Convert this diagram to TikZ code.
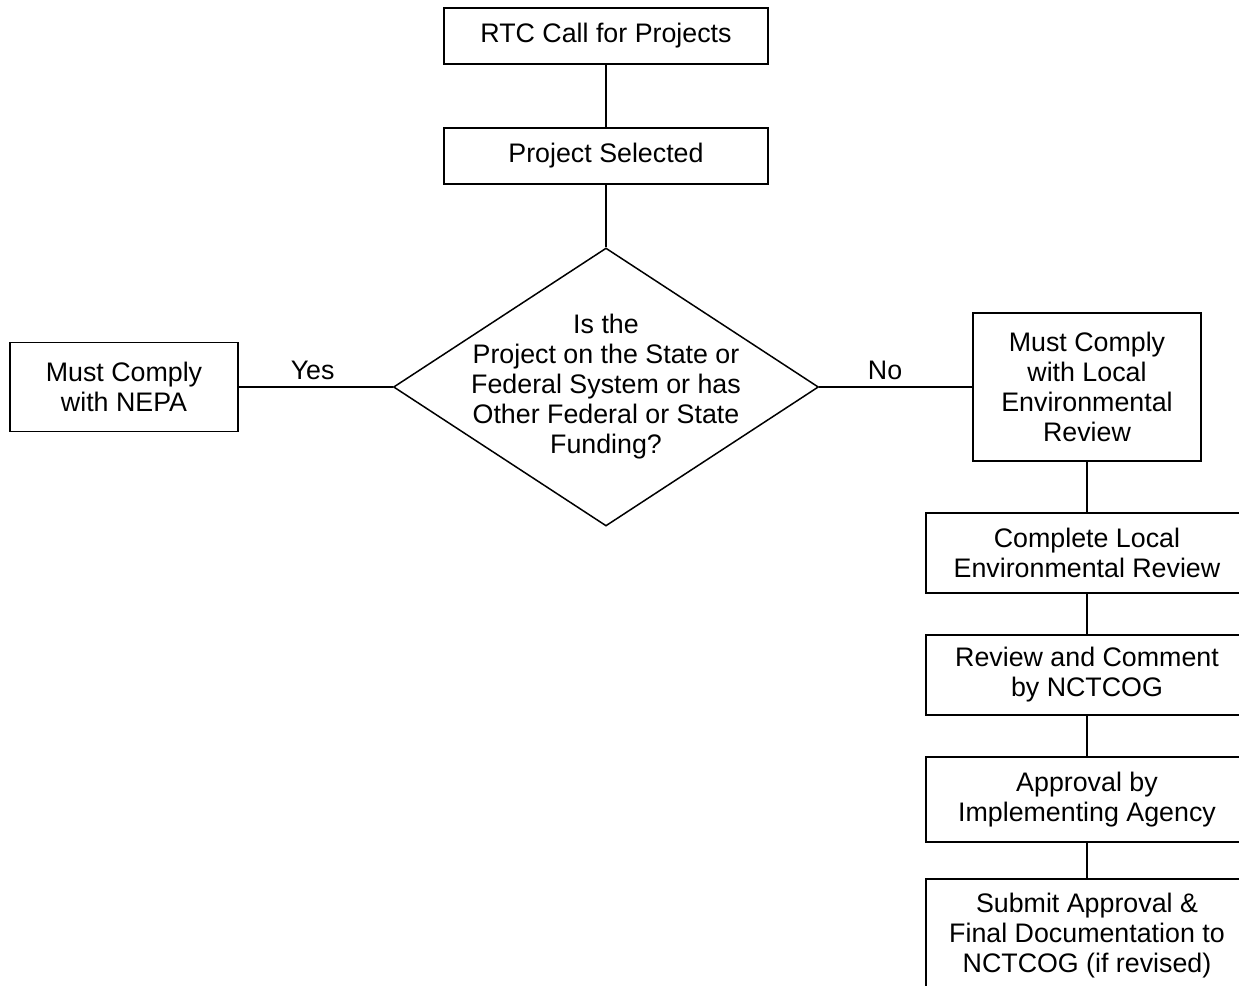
\documentclass[tikz,border=0pt]{standalone}
\usepackage{fontspec}
\setmainfont{Liberation Sans}
\usetikzlibrary{shapes.geometric}
\begin{document}
\begin{tikzpicture}[x=0.5pt, y=-0.5pt, line width=0.75pt,
        every node/.style={font=\fontsize{13.4}{15}\selectfont},
        box/.style={draw, align=center, inner sep=0pt},
        decision/.style={draw, diamond, inner sep=0pt, minimum width=212.5pt, minimum height=139pt}]
                \useasboundingbox (0,0) rectangle (1239,986);
                \draw (606,36) node[box, minimum width=162pt, minimum height=28pt] (rtc) {RTC Call for Projects};
                \draw (606,156) node[box, minimum width=162pt, minimum height=28pt] (sel) {Project Selected};
                \draw (606,387) node[decision] (q) {\makebox[0pt]{\smash{\raisebox{-4pt}{\begin{tabular}{@{}c@{}}Is the\\Project on the State or\\Federal System or has\\Other Federal or State\\Funding?\end{tabular}}}}};
                \draw (124,387) node[box, minimum width=114pt, minimum height=44.5pt] (nepa) {Must Comply\\with NEPA};
                \draw (1087,387) node[box, minimum width=114pt, minimum height=74pt] (local) {Must Comply\\with Local\\Environmental\\Review};
                \draw (1087,553) node[box, minimum width=161pt, minimum height=40pt] (complete) {Complete Local\\Environmental Review};
                \draw (1087,675) node[box, minimum width=161pt, minimum height=40pt] (review) {Review and Comment\\by NCTCOG};
                \draw (1087,799.5) node[box, minimum width=161pt, minimum height=42.5pt] (approval) {Approval by\\Implementing Agency};
                \draw (1087,936) node[box, minimum width=161pt, minimum height=57pt] (submit) {Submit Approval \&\\Final Documentation to\\NCTCOG (if revised)};
                \draw (rtc) -- (sel);
                \draw (sel) -- (q);
                \draw (nepa) -- node[above, pos=.48] {Yes} (q);
                \draw (q) -- node[above, pos=.43] {No} (local);
                \draw (local) -- (complete);
                \draw (complete) -- (review);
                \draw (review) -- (approval);
                \draw (approval) -- (submit);
\end{tikzpicture}
\end{document}
